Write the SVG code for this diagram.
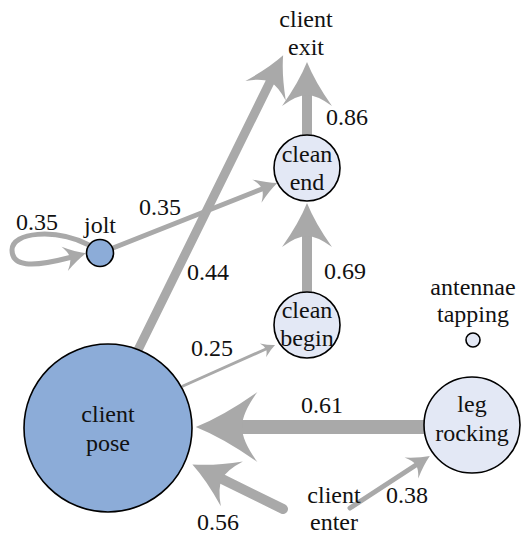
<svg xmlns="http://www.w3.org/2000/svg" width="523" height="538" viewBox="0 0 523 538">
<defs>
<marker id="ah" viewBox="-4.6 -2.7 4.8 5.4" markerWidth="4.8" markerHeight="5.4" refX="-3.3" refY="0" orient="auto" markerUnits="strokeWidth">
<path d="M0,0 Q-2,-0.8 -4.4,-2.5 Q-3.3,-1 -3.3,0 Q-3.3,1 -4.4,2.5 Q-2,0.8 0,0 Z" fill="#a9a9a9"/>
</marker>
</defs>
<rect width="523" height="538" fill="#fff"/>
<g id="connectors">
<g fill="none" stroke="#a9a9a9" stroke-linecap="round" marker-end="url(#ah)">
<path stroke-width="14" d="M424,427 L242,427"/>
<path stroke-width="10" d="M283,509 L222,479"/>
<path stroke-width="5" d="M350,508 L416,465"/>
<path stroke-width="3" d="M183,386 L266,349"/>
<path stroke-width="9" d="M138,350 L270,82"/>
<path stroke-width="5" d="M113,248 L262,189"/>
<path stroke-width="10" d="M307,292 L307,236"/>
<path stroke-width="10" d="M307,135 L307,95"/>
<path stroke-width="5" d="M89,245 C55,228 12,232 12,250 C12,266 30,268 70,257.5"/>
</g>
<g fill="#111" text-anchor="middle" font-size="24">
<text style="font-family:'Liberation Serif','Times New Roman',serif" x="37" y="230">0.35</text>
<text style="font-family:'Liberation Serif','Times New Roman',serif" x="160" y="215">0.35</text>
<text style="font-family:'Liberation Serif','Times New Roman',serif" x="208" y="280">0.44</text>
<text style="font-family:'Liberation Serif','Times New Roman',serif" x="347" y="125">0.86</text>
<text style="font-family:'Liberation Serif','Times New Roman',serif" x="345" y="279">0.69</text>
<text style="font-family:'Liberation Serif','Times New Roman',serif" x="212" y="356">0.25</text>
<text style="font-family:'Liberation Serif','Times New Roman',serif" x="322" y="413">0.61</text>
<text style="font-family:'Liberation Serif','Times New Roman',serif" x="218" y="530">0.56</text>
<text style="font-family:'Liberation Serif','Times New Roman',serif" x="407" y="503">0.38</text>
</g>
</g>
<g fill="#111" text-anchor="middle" font-size="24">
<g id="client_exit">
<text style="font-family:'Liberation Serif','Times New Roman',serif" x="306" y="27">client</text>
<text style="font-family:'Liberation Serif','Times New Roman',serif" x="306" y="55">exit</text>
</g>
<g id="clean_end">
<circle cx="307" cy="168" r="33" fill="#e3e8f5" stroke="#000" stroke-width="1.6"/>
<text style="font-family:'Liberation Serif','Times New Roman',serif" x="307" y="162">clean</text>
<text style="font-family:'Liberation Serif','Times New Roman',serif" x="307" y="190">end</text>
</g>
<g id="jolt">
<circle cx="100" cy="253" r="13.5" fill="#8cacd8" stroke="#000" stroke-width="1.6"/>
<text style="font-family:'Liberation Serif','Times New Roman',serif" x="100" y="233">jolt</text>
</g>
<g id="clean_begin">
<circle cx="307" cy="325" r="33" fill="#e3e8f5" stroke="#000" stroke-width="1.6"/>
<text style="font-family:'Liberation Serif','Times New Roman',serif" x="307" y="318">clean</text>
<text style="font-family:'Liberation Serif','Times New Roman',serif" x="307" y="346">begin</text>
</g>
<g id="antennae_tapping">
<circle cx="473" cy="340" r="7" fill="#e3e8f5" stroke="#000" stroke-width="1.6"/>
<text style="font-family:'Liberation Serif','Times New Roman',serif" x="473" y="295">antennae</text>
<text style="font-family:'Liberation Serif','Times New Roman',serif" x="473" y="322">tapping</text>
</g>
<g id="client_pose">
<circle cx="108" cy="428" r="84" fill="#8cacd8" stroke="#000" stroke-width="1.6"/>
<text style="font-family:'Liberation Serif','Times New Roman',serif" x="108" y="422">client</text>
<text style="font-family:'Liberation Serif','Times New Roman',serif" x="108" y="451">pose</text>
</g>
<g id="leg_rocking">
<circle cx="472" cy="425" r="48" fill="#e3e8f5" stroke="#000" stroke-width="1.6"/>
<text style="font-family:'Liberation Serif','Times New Roman',serif" x="472" y="412">leg</text>
<text style="font-family:'Liberation Serif','Times New Roman',serif" x="472" y="441">rocking</text>
</g>
<g id="client_enter">
<text style="font-family:'Liberation Serif','Times New Roman',serif" x="334" y="503">client</text>
<text style="font-family:'Liberation Serif','Times New Roman',serif" x="334" y="530">enter</text>
</g>
</g>
</svg>
